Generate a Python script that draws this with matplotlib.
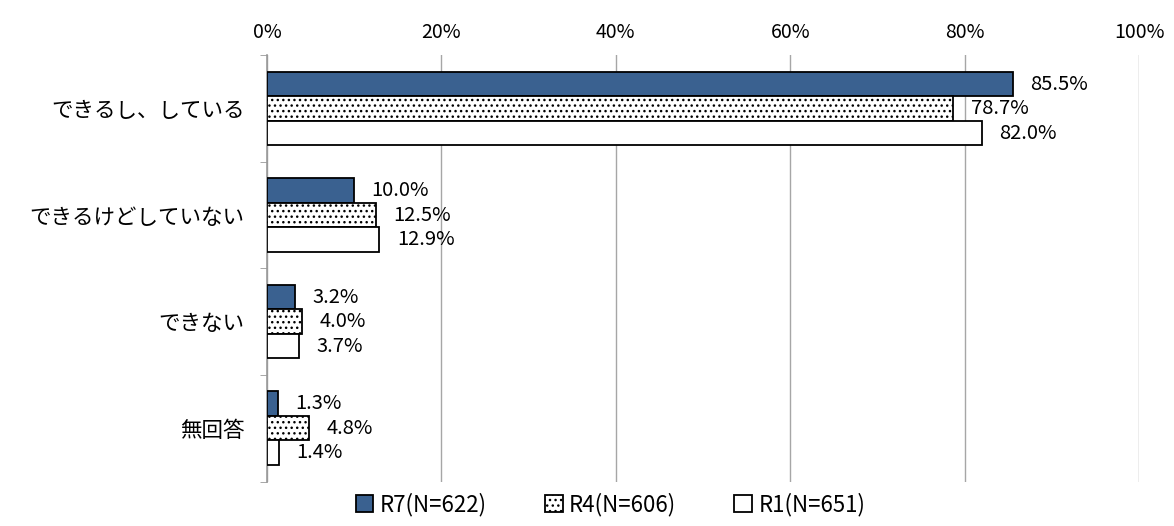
import matplotlib.pyplot as plt
import numpy as np

plt.rcParams['font.family'] = ['Noto Sans CJK JP', 'DejaVu Sans']
plt.rcParams['hatch.linewidth'] = 1.0

categories = ['できるし、している', 'できるけどしていない', 'できない', '無回答']
series = ['R7(N=622)', 'R4(N=606)', 'R1(N=651)']
r7 = [85.5, 10.0, 3.2, 1.3]
r4 = [78.7, 12.5, 4.0, 4.8]
r1 = [82.0, 12.9, 3.7, 1.4]

fig = plt.figure(figsize=(11.74, 5.26), dpi=100)
ax = fig.add_axes([0.2274, 0.0846, 0.7428, 0.81])

y = np.arange(len(categories))
h = 0.23
styles = [
    dict(color='#3A6190', edgecolor='black', hatch=None),
    dict(color='white', edgecolor='black', hatch='...'),
    dict(color='white', edgecolor='black', hatch=None),
]
for i, (vals, st) in enumerate(zip([r7, r4, r1], styles)):
    pos = y + (i - 1) * h
    ax.barh(pos, vals, height=h, facecolor=st['color'], edgecolor=st['edgecolor'],
            hatch=st['hatch'], linewidth=1.3, label=series[i], zorder=3)
    for p, v in zip(pos, vals):
        ax.text(v + 2.0, p, f'{v:.1f}%', va='center', ha='left', fontsize=14.5, zorder=4)

ax.set_xlim(0, 100)
ax.set_ylim(len(categories) - 0.5, -0.5)
ax.set_xticks(np.arange(0, 101, 20))
ax.set_xticklabels([f'{t}%' for t in range(0, 101, 20)], fontsize=14)
ax.xaxis.tick_top()
ax.tick_params(axis='x', length=0, pad=9)
ax.set_yticks(np.arange(-0.5, len(categories)), minor=True)
ax.set_yticks(y)
ax.set_yticklabels(categories, fontsize=15.5)
ax.tick_params(axis='y', which='major', length=0, pad=16)
ax.tick_params(axis='y', which='minor', length=5, color='#999999')
ax.grid(axis='x', color='#A6A6A6', linewidth=1, zorder=0)
for s in ['top', 'right', 'bottom']:
    ax.spines[s].set_visible(False)
ax.spines['left'].set_color('#999999')
ax.spines['left'].set_linewidth(1.2)

fig.legend(loc='lower center', ncol=3, frameon=False, fontsize=16,
           bbox_to_anchor=(0.52, -0.02), handlelength=0.8, handleheight=0.8,
           handletextpad=0.3, columnspacing=2.6)

fig.savefig('out.png', dpi=100)
